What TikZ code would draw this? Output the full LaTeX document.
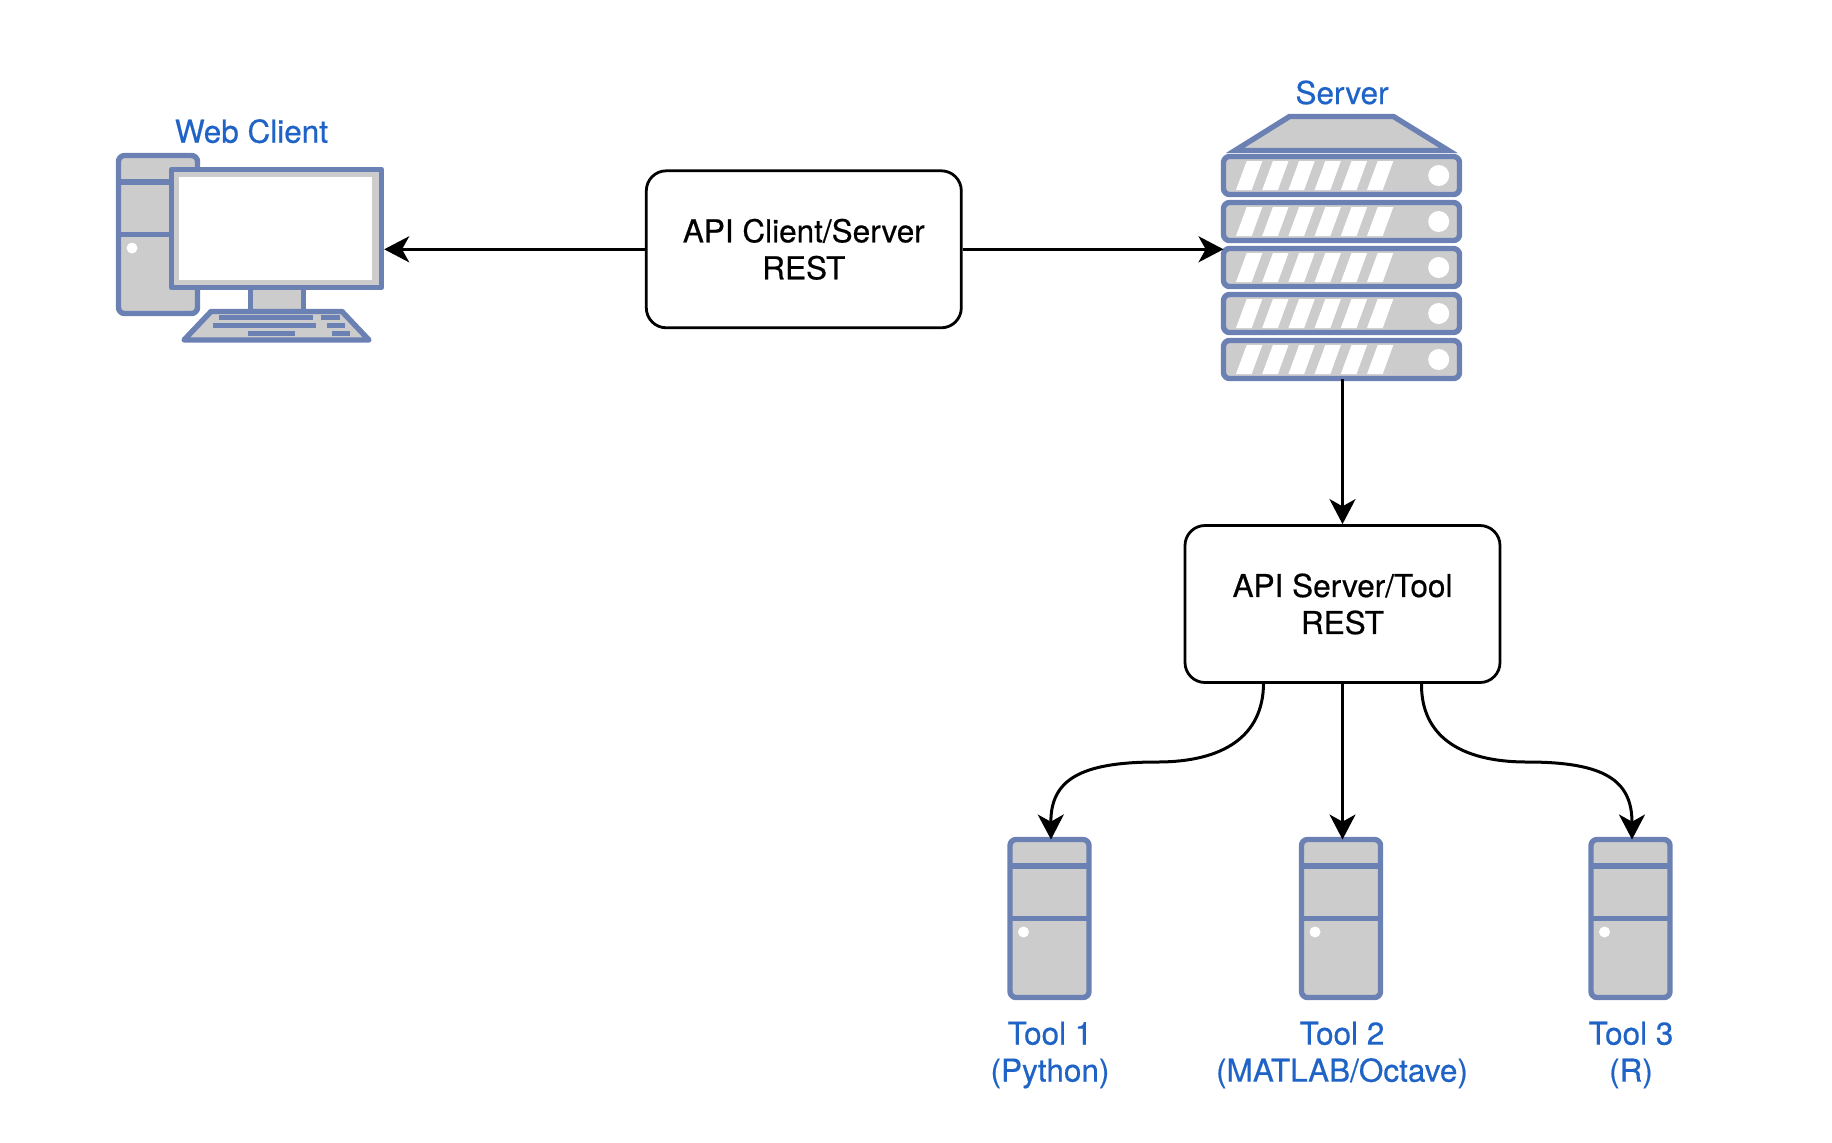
\documentclass[tikz,border=0pt]{standalone}
\usepackage{fontspec}
\setmainfont[RawFeature={embolden=0.5}]{TeX Gyre Heros}
\usetikzlibrary{arrows.meta}
\definecolor{hwline}{HTML}{6C81B3}
\definecolor{hwfill}{HTML}{CCCCCC}
\definecolor{lblblue}{HTML}{1F63C6}
\tikzset{
  hwpart/.style={draw=hwline,fill=hwfill,line width=2.7pt,line join=round},
  hwunit/.style={hwpart,outer sep=0pt,inner sep=0pt},
  hwdot/.style={fill=white,draw=none},
  hwkey/.style={fill=hwline,draw=none},
  apibox/.style={draw=black,fill=white,line width=1.4pt,rounded corners=10pt,minimum width=157.5pt,minimum height=78.5pt,align=center,font=\fontsize{15.75}{18.5}\selectfont,execute at begin node={\rule{0pt}{13.7pt}}},
  lbl/.style={text=lblblue,align=center,font=\fontsize{15.75}{18.5}\selectfont},
  flow/.style={draw=black,line width=1.5pt,-{Stealth[length=12.5pt,width=13pt,inset=3.6pt]}}
}
% tower case, used for the client and for each tool
\newcommand{\towercase}[2]{
\begin{scope}[shift={(#2)}]
\node[hwunit,rounded corners=3pt,minimum width=39.5pt,minimum height=79pt](#1) at (0,0){};
\draw[hwline,line width=2.7pt](-79/2,-52.5)--(79/2,-52.5);
\draw[hwline,line width=2.7pt](-79/2,0)--(79/2,0);
\fill[hwdot](-26,13.5)circle(5.5);
\end{scope}
}
\begin{document}
\begin{tikzpicture}[x=0.5pt,y=-0.5pt]
\useasboundingbox (0,0) rectangle (1832,1142);
% client
\towercase{pccase}{158,234.5}
\draw[hwpart](250.5,285) rectangle (303.5,312);
\node[hwpart,minimum width=105pt,minimum height=59pt,inner sep=0pt](monitor) at (276.5,228.5){};
\fill[white](179,177) rectangle (372,280);
\draw[hwpart](211,311.5)--(342,311.5)--(369,340)--(184,340)--cycle;
\fill[hwkey](218.7,315) rectangle (313,320);
\fill[hwkey](321,315) rectangle (340,320);
\fill[hwkey](213,323) rectangle (316,328.3);
\fill[hwkey](326.7,323) rectangle (345,328.3);
\fill[hwkey](247.7,331) rectangle (295,336);
\fill[hwkey](332,331) rectangle (350,336);
\node[lbl,anchor=base](clientlbl) at (251.5,142.7){Web Client};
% server
\draw[hwpart,line join=miter](1289.5,116.5)--(1393.5,116.5)--(1448.5,150.5)--(1235,150.5)--cycle;
\foreach \i/\yy in {1/175.5,2/221.5,3/267.5,4/313.5,5/359.5}{
  \node[hwunit,rounded corners=3pt,minimum width=118pt,minimum height=19pt](srv\i) at (1341.5,\yy){};
  \foreach \k in {0,...,5}
    \fill[white](1236+\k*26.2,\yy+14.5)--(1251.7+\k*26.2,\yy+14.5)--(1262.3+\k*26.2,\yy-14.5)--(1246.7+\k*26.2,\yy-14.5)--cycle;
  \fill[hwdot](1438.7,\yy)circle(10.5);
}
\node[lbl,anchor=base](srvlbl) at (1342,104){Server};
% api boxes
\node[apibox](apiclient) at (803.8,249.3){API Client/Server\\REST};
\node[apibox](apitool) at (1342.5,604){API Server/Tool\\REST};
% tools
\towercase{tool1}{1049.5,918.5}
\towercase{tool2}{1341,918.5}
\towercase{tool3}{1630.5,918.5}
\node[lbl](tool1lbl) at (1050,1055){Tool 1\\(Python)};
\node[lbl](tool2lbl) at (1342,1055){Tool 2\\(MATLAB/Octave)};
\node[lbl](tool3lbl) at (1631,1055){Tool 3\\(R)};
% connectors
\draw[flow](apiclient.west)--(apiclient.west-|monitor.east);
\draw[flow](apiclient.east)--(apiclient.east-|srv3.west);
\draw[flow](apitool.north|-srv5.south)--(apitool.north);
\draw[flow]([xshift=-39.5pt]apitool.south) .. controls (1263,735) and (1225,762) .. (1157,762) .. controls (1080,762) and (1050.5,780) .. ([xshift=.75pt]tool1.north);
\draw[flow](apitool.south)--(apitool.south|-tool2.north);
\draw[flow]([xshift=39.5pt]apitool.south) .. controls (1421,735) and (1459,762) .. (1527,762) .. controls (1604,762) and (1632,780) .. ([xshift=.75pt]tool3.north);
\end{tikzpicture}
\end{document}
